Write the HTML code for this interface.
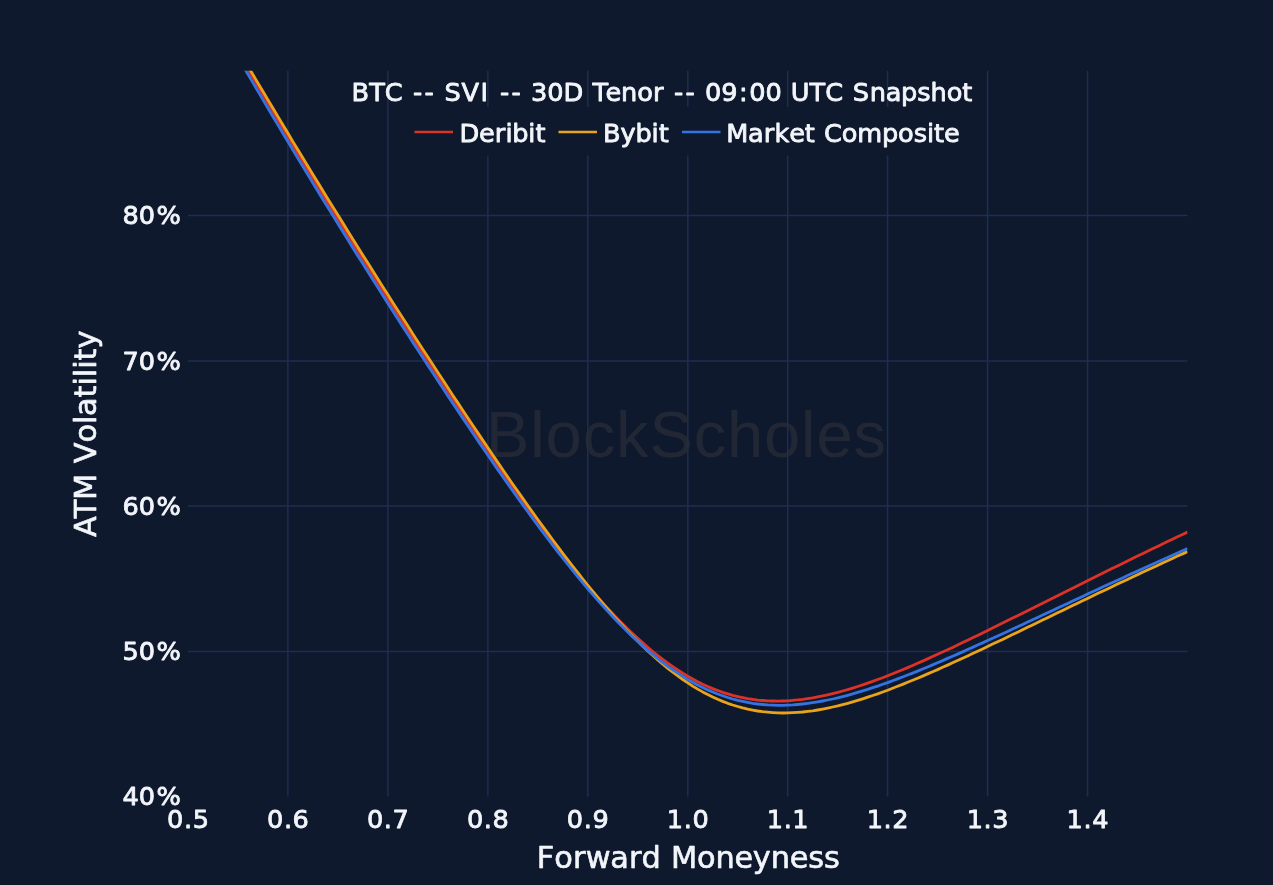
<!DOCTYPE html>
<html lang="en"><head><meta charset="utf-8"><title>BTC SVI 30D Tenor Smile</title>
<style>
html,body{margin:0;padding:0;background:#0f192d;}
body{width:1273px;height:885px;overflow:hidden;}
svg{display:block;filter:blur(.5px);}
text{font-family:"DejaVu Sans", "Liberation Sans", sans-serif;fill:#f2f5fa;white-space:pre;stroke:#f2f5fa;stroke-width:.85px;stroke-linejoin:round;}
.t{font-size:25.6px;}
.ax{font-size:30.4px;stroke-width:.65px;}
.grid line{stroke:#1e2e50;stroke-width:1.5;}
.wm{stroke:none;font-family:"Liberation Sans",sans-serif;font-size:65px;fill:#2a2c38;fill-opacity:.75;}
.c{fill:none;stroke-width:2.8;stroke-linejoin:round;}
</style></head><body>
<svg width="1273" height="885" viewBox="0 0 1273 885">
<defs><clipPath id="plot"><rect x="188.0" y="70.7" width="999.5" height="725.9"/></clipPath></defs>
<rect width="1273" height="885" fill="#0f192d"/>
<g class="grid">
<line x1="287.9" y1="70.7" x2="287.9" y2="796.6"/>
<line x1="387.9" y1="70.7" x2="387.9" y2="796.6"/>
<line x1="487.9" y1="70.7" x2="487.9" y2="796.6"/>
<line x1="587.8" y1="70.7" x2="587.8" y2="796.6"/>
<line x1="687.8" y1="70.7" x2="687.8" y2="796.6"/>
<line x1="787.7" y1="70.7" x2="787.7" y2="796.6"/>
<line x1="887.6" y1="70.7" x2="887.6" y2="796.6"/>
<line x1="987.6" y1="70.7" x2="987.6" y2="796.6"/>
<line x1="1087.6" y1="70.7" x2="1087.6" y2="796.6"/>
<line x1="188.0" y1="651.4" x2="1187.5" y2="651.4"/>
<line x1="188.0" y1="506.1" x2="1187.5" y2="506.1"/>
<line x1="188.0" y1="360.9" x2="1187.5" y2="360.9"/>
<line x1="188.0" y1="215.6" x2="1187.5" y2="215.6"/>
</g>
<text class="wm" x="486" y="456.5" textLength="400" lengthAdjust="spacing">BlockScholes</text>
<g clip-path="url(#plot)">
<path class="c" stroke="#dc3227" d="M228.0,34.7 L233.0,43.4 L238.0,52.0 L243.0,60.7 L248.0,69.3 L253.0,77.9 L258.0,86.4 L263.0,94.9 L268.0,103.4 L273.0,111.9 L278.0,120.3 L283.0,128.7 L288.0,137.1 L292.9,145.4 L297.9,153.8 L302.9,162.1 L307.9,170.4 L312.9,178.6 L317.9,186.8 L322.9,195.0 L327.9,203.2 L332.9,211.4 L337.9,219.5 L342.9,227.6 L347.9,235.7 L352.9,243.8 L357.9,251.8 L362.9,259.9 L367.9,267.9 L372.9,275.8 L377.9,283.8 L382.9,291.7 L387.9,299.6 L392.9,307.5 L397.9,315.4 L402.9,323.2 L407.9,331.0 L412.9,338.8 L417.9,346.6 L422.9,354.3 L427.9,362.0 L432.9,369.7 L437.9,377.3 L442.9,384.9 L447.9,392.5 L452.9,400.1 L457.9,407.6 L462.9,415.1 L467.9,422.6 L472.9,430.0 L477.9,437.4 L482.9,444.7 L487.9,452.0 L492.8,459.3 L497.8,466.5 L502.8,473.7 L507.8,480.8 L512.8,487.9 L517.8,494.9 L522.8,501.8 L527.8,508.7 L532.8,515.6 L537.8,522.4 L542.8,529.1 L547.8,535.7 L552.8,542.3 L557.8,548.7 L562.8,555.1 L567.8,561.4 L572.8,567.7 L577.8,573.8 L582.8,579.8 L587.8,585.8 L592.8,591.6 L597.8,597.3 L602.8,602.9 L607.8,608.4 L612.8,613.7 L617.8,618.9 L622.8,624.0 L627.8,629.0 L632.8,633.8 L637.8,638.4 L642.8,642.9 L647.8,647.3 L652.8,651.5 L657.8,655.5 L662.8,659.4 L667.8,663.1 L672.8,666.6 L677.8,670.0 L682.8,673.2 L687.8,676.2 L692.7,679.0 L697.7,681.7 L702.7,684.2 L707.7,686.5 L712.7,688.6 L717.7,690.5 L722.7,692.3 L727.7,693.9 L732.7,695.4 L737.7,696.6 L742.7,697.7 L747.7,698.7 L752.7,699.4 L757.7,700.1 L762.7,700.5 L767.7,700.9 L772.7,701.0 L777.7,701.1 L782.7,701.0 L787.7,700.8 L792.7,700.4 L797.7,699.9 L802.7,699.4 L807.7,698.7 L812.7,697.9 L817.7,696.9 L822.7,695.9 L827.7,694.8 L832.7,693.6 L837.7,692.4 L842.7,691.0 L847.7,689.6 L852.7,688.1 L857.7,686.5 L862.7,684.8 L867.7,683.1 L872.7,681.4 L877.7,679.5 L882.7,677.7 L887.7,675.7 L892.6,673.8 L897.6,671.7 L902.6,669.7 L907.6,667.6 L912.6,665.5 L917.6,663.3 L922.6,661.1 L927.6,658.9 L932.6,656.6 L937.6,654.3 L942.6,652.0 L947.6,649.7 L952.6,647.4 L957.6,645.0 L962.6,642.6 L967.6,640.2 L972.6,637.8 L977.6,635.4 L982.6,632.9 L987.6,630.5 L992.6,628.0 L997.6,625.6 L1002.6,623.1 L1007.6,620.6 L1012.6,618.1 L1017.6,615.7 L1022.6,613.2 L1027.6,610.7 L1032.6,608.2 L1037.6,605.7 L1042.6,603.2 L1047.6,600.7 L1052.6,598.2 L1057.6,595.7 L1062.6,593.2 L1067.6,590.7 L1072.6,588.2 L1077.6,585.7 L1082.6,583.2 L1087.5,580.7 L1092.5,578.2 L1097.5,575.7 L1102.5,573.3 L1107.5,570.8 L1112.5,568.3 L1117.5,565.9 L1122.5,563.4 L1127.5,561.0 L1132.5,558.5 L1137.5,556.1 L1142.5,553.7 L1147.5,551.2 L1152.5,548.8 L1157.5,546.4 L1162.5,544.0 L1167.5,541.6 L1172.5,539.2 L1177.5,536.8 L1182.5,534.5 L1187.5,532.1"/>
<path class="c" stroke="#e9a41c" d="M228.0,31.8 L233.0,40.4 L238.0,49.0 L243.0,57.6 L248.0,66.1 L253.0,74.6 L258.0,83.1 L263.0,91.5 L268.0,99.9 L273.0,108.3 L278.0,116.6 L283.0,125.0 L288.0,133.3 L292.9,141.6 L297.9,149.8 L302.9,158.0 L307.9,166.3 L312.9,174.4 L317.9,182.6 L322.9,190.8 L327.9,198.9 L332.9,207.0 L337.9,215.1 L342.9,223.1 L347.9,231.2 L352.9,239.2 L357.9,247.2 L362.9,255.2 L367.9,263.1 L372.9,271.1 L377.9,279.0 L382.9,286.9 L387.9,294.8 L392.9,302.7 L397.9,310.5 L402.9,318.3 L407.9,326.1 L412.9,333.9 L417.9,341.7 L422.9,349.4 L427.9,357.1 L432.9,364.8 L437.9,372.5 L442.9,380.1 L447.9,387.8 L452.9,395.4 L457.9,402.9 L462.9,410.5 L467.9,418.0 L472.9,425.5 L477.9,432.9 L482.9,440.4 L487.9,447.8 L492.8,455.1 L497.8,462.4 L502.8,469.7 L507.8,477.0 L512.8,484.2 L517.8,491.3 L522.8,498.4 L527.8,505.5 L532.8,512.5 L537.8,519.5 L542.8,526.4 L547.8,533.2 L552.8,540.0 L557.8,546.7 L562.8,553.3 L567.8,559.9 L572.8,566.3 L577.8,572.7 L582.8,579.0 L587.8,585.3 L592.8,591.4 L597.8,597.4 L602.8,603.3 L607.8,609.1 L612.8,614.8 L617.8,620.4 L622.8,625.8 L627.8,631.1 L632.8,636.3 L637.8,641.3 L642.8,646.2 L647.8,650.9 L652.8,655.5 L657.8,659.9 L662.8,664.2 L667.8,668.3 L672.8,672.2 L677.8,675.9 L682.8,679.5 L687.8,682.9 L692.7,686.1 L697.7,689.1 L702.7,691.9 L707.7,694.5 L712.7,697.0 L717.7,699.3 L722.7,701.4 L727.7,703.3 L732.7,705.0 L737.7,706.5 L742.7,707.9 L747.7,709.1 L752.7,710.1 L757.7,711.0 L762.7,711.7 L767.7,712.2 L772.7,712.6 L777.7,712.9 L782.7,713.0 L787.7,712.9 L792.7,712.7 L797.7,712.4 L802.7,712.0 L807.7,711.4 L812.7,710.8 L817.7,710.0 L822.7,709.1 L827.7,708.1 L832.7,707.0 L837.7,705.9 L842.7,704.6 L847.7,703.3 L852.7,701.9 L857.7,700.4 L862.7,698.8 L867.7,697.2 L872.7,695.5 L877.7,693.8 L882.7,692.0 L887.7,690.2 L892.6,688.3 L897.6,686.3 L902.6,684.4 L907.6,682.3 L912.6,680.3 L917.6,678.2 L922.6,676.1 L927.6,673.9 L932.6,671.8 L937.6,669.6 L942.6,667.3 L947.6,665.1 L952.6,662.8 L957.6,660.5 L962.6,658.2 L967.6,655.9 L972.6,653.6 L977.6,651.2 L982.6,648.9 L987.6,646.5 L992.6,644.1 L997.6,641.8 L1002.6,639.4 L1007.6,637.0 L1012.6,634.6 L1017.6,632.2 L1022.6,629.7 L1027.6,627.3 L1032.6,624.9 L1037.6,622.5 L1042.6,620.1 L1047.6,617.7 L1052.6,615.3 L1057.6,612.8 L1062.6,610.4 L1067.6,608.0 L1072.6,605.6 L1077.6,603.2 L1082.6,600.8 L1087.5,598.4 L1092.5,596.0 L1097.5,593.6 L1102.5,591.2 L1107.5,588.9 L1112.5,586.5 L1117.5,584.1 L1122.5,581.7 L1127.5,579.4 L1132.5,577.0 L1137.5,574.7 L1142.5,572.3 L1147.5,570.0 L1152.5,567.7 L1157.5,565.4 L1162.5,563.0 L1167.5,560.7 L1172.5,558.4 L1177.5,556.1 L1182.5,553.9 L1187.5,551.6"/>
<path class="c" stroke="#3373e3" d="M228.0,40.0 L233.0,48.7 L238.0,57.3 L243.0,65.9 L248.0,74.4 L253.0,82.9 L258.0,91.4 L263.0,99.9 L268.0,108.3 L273.0,116.7 L278.0,125.1 L283.0,133.5 L288.0,141.8 L292.9,150.1 L297.9,158.4 L302.9,166.6 L307.9,174.8 L312.9,183.1 L317.9,191.2 L322.9,199.4 L327.9,207.5 L332.9,215.6 L337.9,223.7 L342.9,231.8 L347.9,239.8 L352.9,247.9 L357.9,255.9 L362.9,263.8 L367.9,271.8 L372.9,279.7 L377.9,287.6 L382.9,295.5 L387.9,303.4 L392.9,311.2 L397.9,319.1 L402.9,326.9 L407.9,334.6 L412.9,342.4 L417.9,350.1 L422.9,357.8 L427.9,365.5 L432.9,373.1 L437.9,380.7 L442.9,388.3 L447.9,395.9 L452.9,403.4 L457.9,410.9 L462.9,418.4 L467.9,425.8 L472.9,433.2 L477.9,440.6 L482.9,447.9 L487.9,455.2 L492.8,462.4 L497.8,469.6 L502.8,476.8 L507.8,483.9 L512.8,491.0 L517.8,498.0 L522.8,504.9 L527.8,511.8 L532.8,518.6 L537.8,525.4 L542.8,532.1 L547.8,538.7 L552.8,545.3 L557.8,551.8 L562.8,558.2 L567.8,564.5 L572.8,570.7 L577.8,576.8 L582.8,582.8 L587.8,588.8 L592.8,594.6 L597.8,600.3 L602.8,605.9 L607.8,611.4 L612.8,616.8 L617.8,622.0 L622.8,627.1 L627.8,632.0 L632.8,636.9 L637.8,641.5 L642.8,646.1 L647.8,650.4 L652.8,654.6 L657.8,658.7 L662.8,662.6 L667.8,666.3 L672.8,669.9 L677.8,673.2 L682.8,676.4 L687.8,679.5 L692.7,682.3 L697.7,685.0 L702.7,687.5 L707.7,689.9 L712.7,692.0 L717.7,694.0 L722.7,695.8 L727.7,697.5 L732.7,699.0 L737.7,700.3 L742.7,701.4 L747.7,702.4 L752.7,703.3 L757.7,704.0 L762.7,704.5 L767.7,704.9 L772.7,705.1 L777.7,705.3 L782.7,705.3 L787.7,705.1 L792.7,704.9 L797.7,704.5 L802.7,704.0 L807.7,703.4 L812.7,702.7 L817.7,701.9 L822.7,701.0 L827.7,700.0 L832.7,699.0 L837.7,697.8 L842.7,696.6 L847.7,695.3 L852.7,693.9 L857.7,692.4 L862.7,690.9 L867.7,689.4 L872.7,687.7 L877.7,686.1 L882.7,684.3 L887.7,682.6 L892.6,680.7 L897.6,678.9 L902.6,677.0 L907.6,675.0 L912.6,673.1 L917.6,671.1 L922.6,669.0 L927.6,667.0 L932.6,664.9 L937.6,662.7 L942.6,660.6 L947.6,658.4 L952.6,656.3 L957.6,654.1 L962.6,651.9 L967.6,649.6 L972.6,647.4 L977.6,645.1 L982.6,642.9 L987.6,640.6 L992.6,638.3 L997.6,636.0 L1002.6,633.7 L1007.6,631.4 L1012.6,629.1 L1017.6,626.7 L1022.6,624.4 L1027.6,622.1 L1032.6,619.8 L1037.6,617.4 L1042.6,615.1 L1047.6,612.8 L1052.6,610.4 L1057.6,608.1 L1062.6,605.7 L1067.6,603.4 L1072.6,601.1 L1077.6,598.7 L1082.6,596.4 L1087.5,594.1 L1092.5,591.8 L1097.5,589.4 L1102.5,587.1 L1107.5,584.8 L1112.5,582.5 L1117.5,580.2 L1122.5,577.9 L1127.5,575.6 L1132.5,573.3 L1137.5,571.1 L1142.5,568.8 L1147.5,566.5 L1152.5,564.2 L1157.5,562.0 L1162.5,559.7 L1167.5,557.5 L1172.5,555.2 L1177.5,553.0 L1182.5,550.8 L1187.5,548.6"/>
</g>
<rect x="410" y="107" width="556" height="48.5" fill="#0f192d"/>
<text class="t" x="351.50 369.13 384.83 403.14 412.90 424.53 435.39 444.60 461.48 480.60 490.20 499.97 511.59 522.46 531.03 547.31 563.61 583.77 592.41 605.56 621.06 637.21 653.02 664.18 673.95 685.57 696.44 705.01 721.29 739.07 749.19 765.47 782.20 790.77 809.58 825.28 843.58 852.79 869.66 885.72 901.11 917.21 930.54 946.69 962.31" y="101" >BTC -- SVI -- 30D Tenor -- 09:00 UTC Snapshot</text>
<line x1="414.5" y1="132" x2="453" y2="132" stroke="#dc3227" stroke-width="2.7"/>
<text class="t" x="459.51 478.99 494.70 505.38 512.29 528.34 535.43" y="142" >Deribit</text>
<line x1="558.5" y1="132" x2="597" y2="132" stroke="#e9a41c" stroke-width="2.7"/>
<text class="t" x="603.00 620.56 635.57 651.62 658.70" y="142" >Bybit</text>
<line x1="682" y1="132" x2="720.5" y2="132" stroke="#3373e3" stroke-width="2.7"/>
<text class="t" x="726.25 747.93 763.67 774.56 789.31 804.83 815.33 823.90 841.72 857.30 882.07 898.11 913.71 927.00 934.09 943.91" y="142" >Market Composite</text>
<text class="t" x="167.06 183.93 192.66" y="827.8" >0.5</text>
<text class="t" x="267.01 283.88 292.61" y="827.8" >0.6</text>
<text class="t" x="366.96 383.83 392.56" y="827.8" >0.7</text>
<text class="t" x="466.91 483.78 492.51" y="827.8" >0.8</text>
<text class="t" x="566.86 583.73 592.46" y="827.8" >0.9</text>
<text class="t" x="666.81 683.68 692.41" y="827.8" >1.0</text>
<text class="t" x="766.76 783.63 792.36" y="827.8" >1.1</text>
<text class="t" x="866.71 883.58 892.31" y="827.8" >1.2</text>
<text class="t" x="966.66 983.53 992.26" y="827.8" >1.3</text>
<text class="t" x="1066.61 1083.48 1092.21" y="827.8" >1.4</text>
<text class="t" x="122.39 138.67 156.56" y="805.4" >40%</text>
<text class="t" x="122.39 138.67 156.56" y="660.1" >50%</text>
<text class="t" x="122.39 138.67 156.56" y="514.9" >60%</text>
<text class="t" x="122.39 138.67 156.56" y="369.7" >70%</text>
<text class="t" x="122.39 138.67 156.56" y="224.4" >80%</text>
<text class="ax" x="536.72 554.13 572.90 585.64 610.33 629.02 641.58 661.22 671.10 696.95 715.47 734.43 752.84 770.82 789.79 808.20 824.04" y="867.6" >Forward Moneyness</text>
<g transform="translate(96.4,433.8) rotate(-90)"><text class="ax" x="-103.30 -84.46 -66.12 -39.67 -29.49 -8.77 9.70 17.91 36.39 48.28 56.61 64.94 73.35 85.31" y="0" >ATM Volatility</text></g>
</svg></body></html>
